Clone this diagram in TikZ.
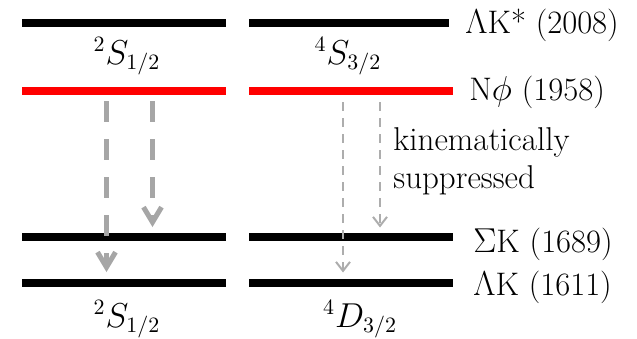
\documentclass[tikz,border=0pt]{standalone}
\usetikzlibrary{arrows.meta}
\definecolor{decaygray}{HTML}{A6A6A6}
\definecolor{weakgray}{HTML}{ADADAD}
\begin{document}
\begin{tikzpicture}[x=0.5pt,y=-0.5pt,font=\fontsize{16}{19.2}\selectfont,
  level/.style={line width=4pt},
  decay/.style={draw=decaygray,line width=2.5pt,dash pattern=on 10.5pt off 8.5pt,
    -{Straight Barb[length=7.5pt,width=9pt,line width=2.5pt]}},
  weak/.style={draw=weakgray,line width=1pt,dash pattern=on 4.5pt off 3.5pt,
    -{Straight Barb[length=4.5pt,width=7pt,line width=1pt]}},
  chan/.style={anchor=base west,inner sep=0pt,font=\fontsize{16.3}{19}\selectfont}]
  \useasboundingbox (0,0) rectangle (637,338);
  \foreach \y/\c/\e/\n in {23/black/449/top,91/red/453/phi,237/black/453/sig,283/black/453/lam} {
    \draw[level,\c] (22,\y) coordinate (\n1) -- (226,\y) coordinate (\n2);
    \draw[level,\c] (249,\y) coordinate (\n3) -- (\e,\y) coordinate (\n4);
  }
  \node[chan] (lakstar) at (465,33) {$\Lambda$K* (2008)};
  \node[chan] (nphi) at (469,100) {N$\phi$ (1958)};
  \node[chan] (sigk) at (473,252) {$\Sigma$K (1689)};
  \node[chan] (lamk) at (473,295) {$\Lambda$K (1611)};
  \node[anchor=base] (sl) at (127,64) {$^2S_{1/2}$};
  \node[anchor=base] (sr) at (348,64) {$^4S_{3/2}$};
  \node[anchor=base] (sb) at (127,327) {$^2S_{1/2}$};
  \node[anchor=base] (db) at (360,327) {$^4D_{3/2}$};
  \node[anchor=north west,align=left,inner sep=0pt,font=\fontsize{16.5}{19}\selectfont]
    (supp) at (393,127) {kinematically\\suppressed};
  \coordinate (a1) at (106.5,101);
  \coordinate (b1) at (106.5,272);
  \coordinate (a2) at (152.5,101);
  \coordinate (b2) at (152.5,227);
  \coordinate (a3) at (343,102);
  \coordinate (b3) at (343,272.5);
  \coordinate (a4) at (380,102);
  \coordinate (b4) at (380,227.5);
  \draw[decay] (a1) -- (b1);
  \draw[decay] (a2) -- (b2);
  \draw[weak] (a3) -- (b3);
  \draw[weak] (a4) -- (b4);
\end{tikzpicture}
\end{document}
